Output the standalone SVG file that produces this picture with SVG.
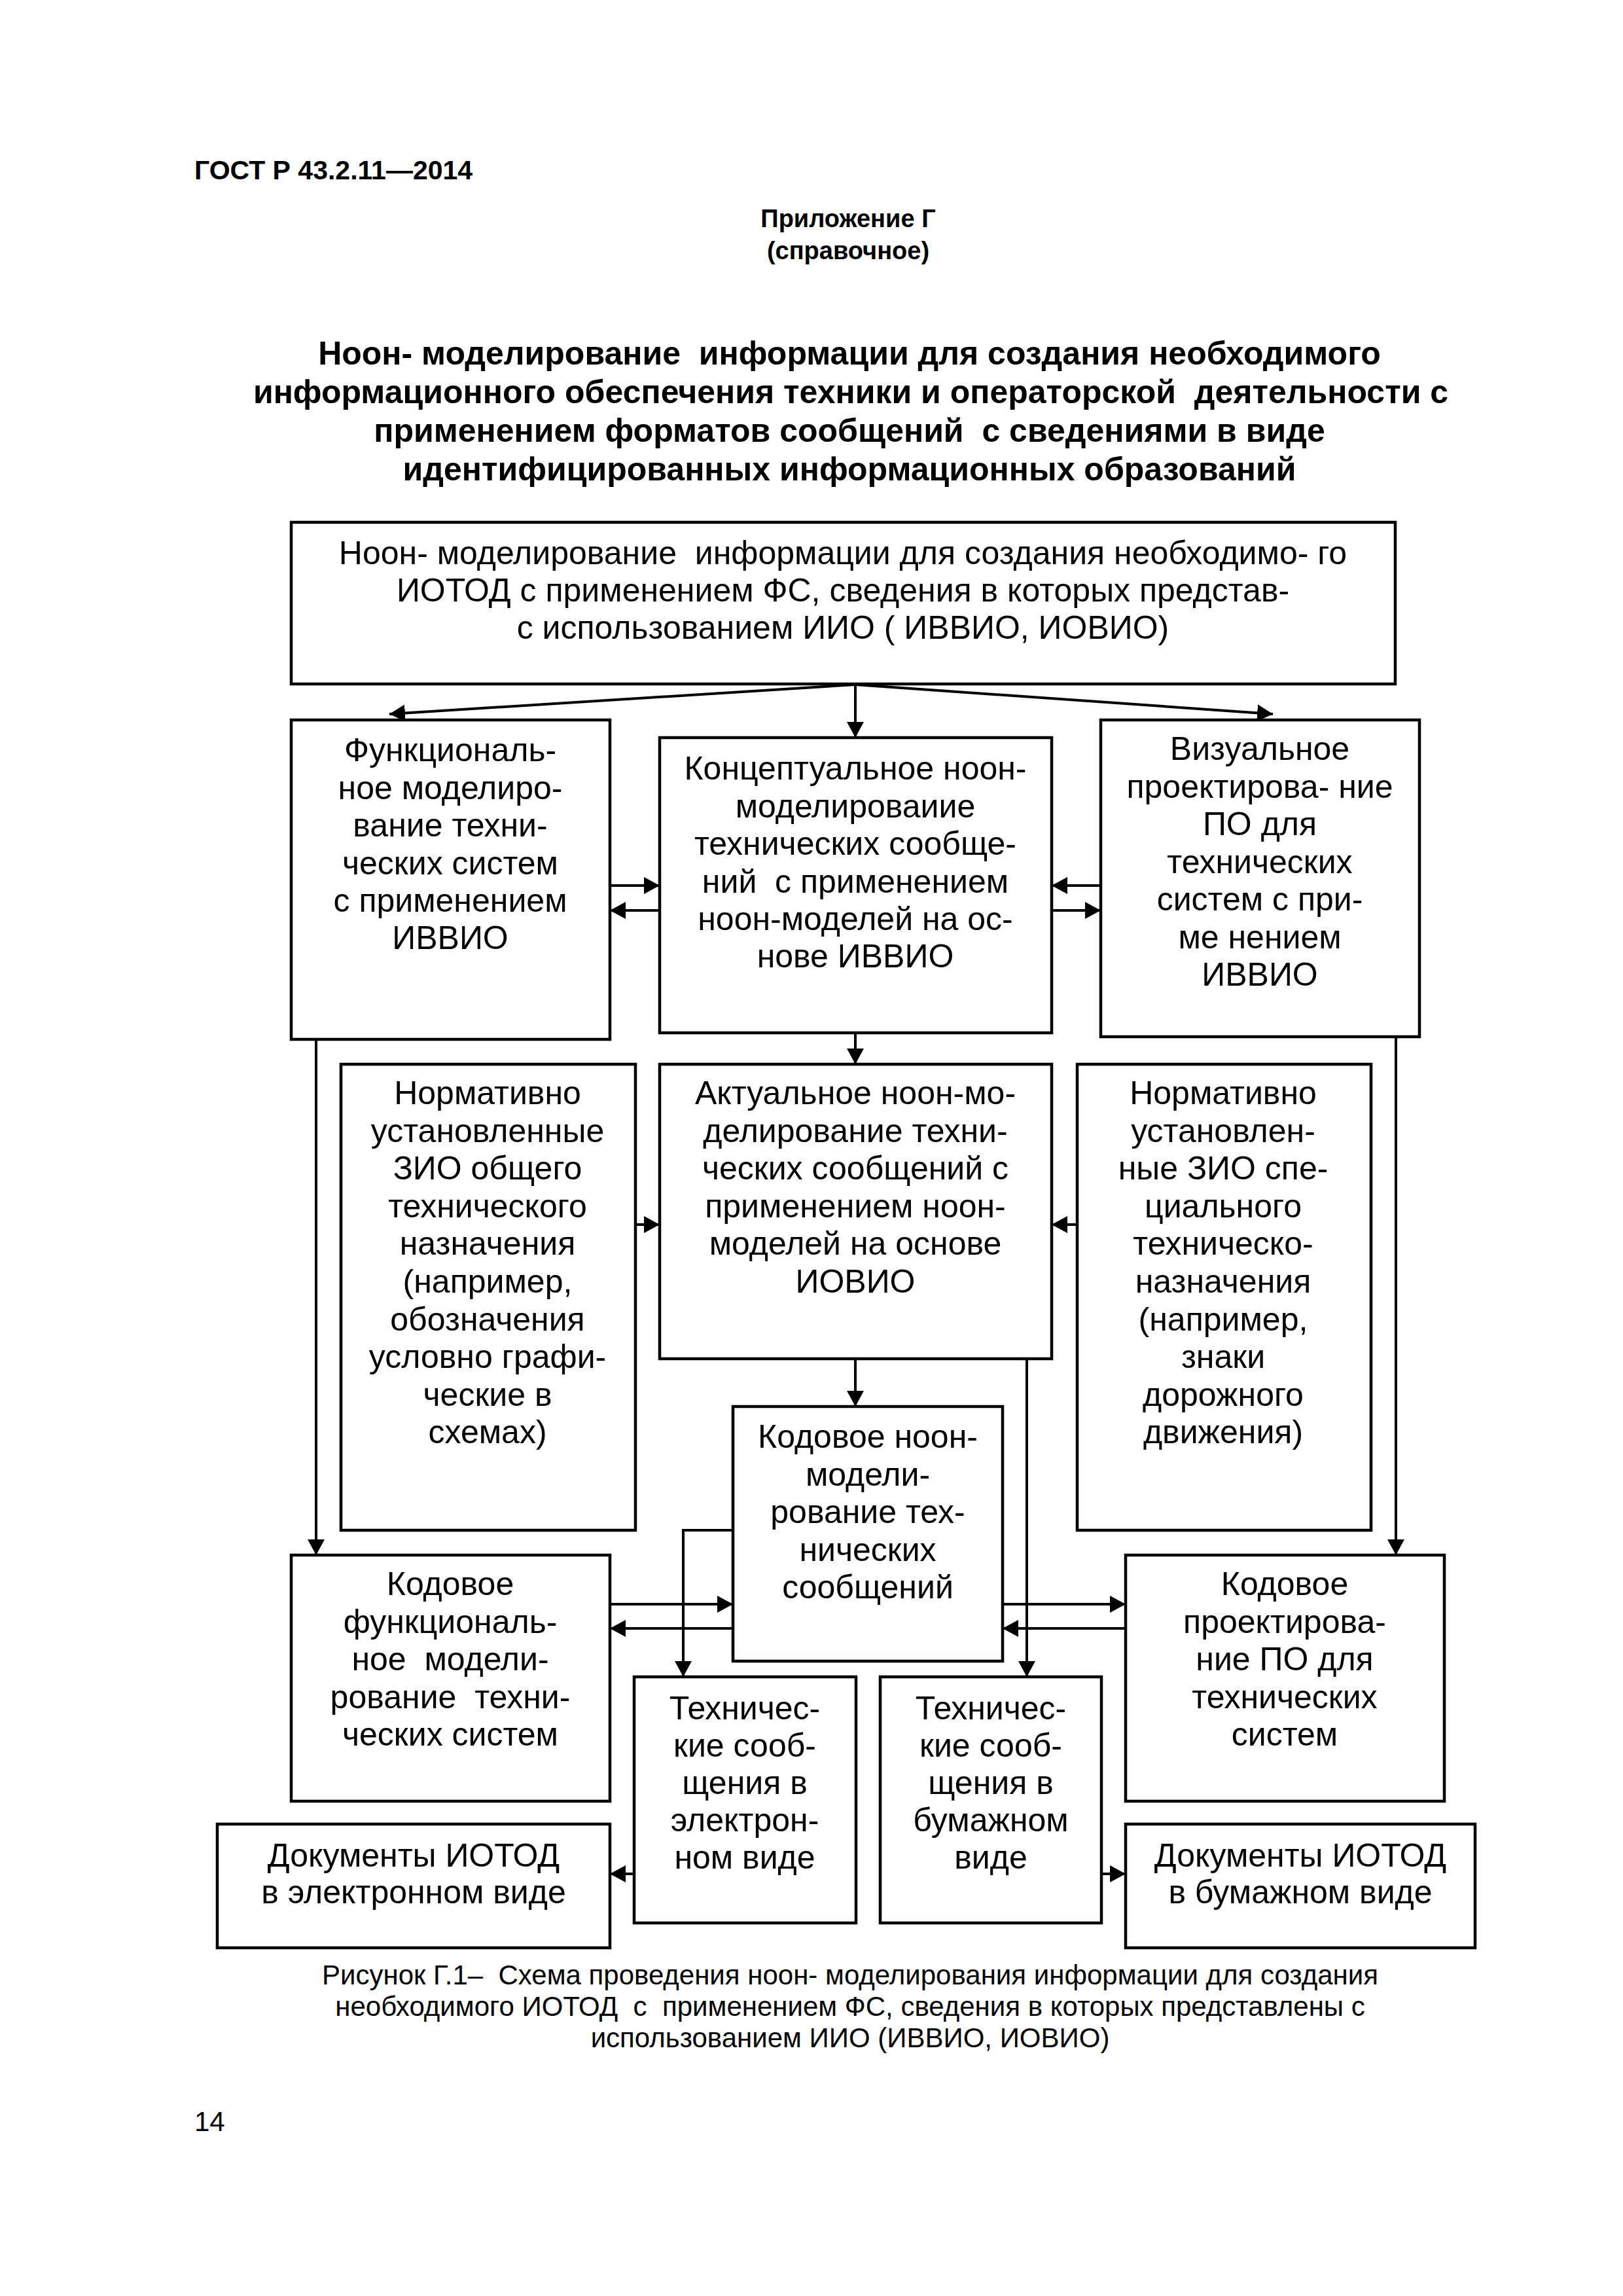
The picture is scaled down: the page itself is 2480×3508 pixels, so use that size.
<svg xmlns="http://www.w3.org/2000/svg" width="2480" height="3508" viewBox="0 0 2480 3508">
<style>
.t{font-family:"Liberation Sans",Arial,sans-serif;font-size:50px;fill:#000;text-anchor:middle;white-space:pre}
.b{font-weight:bold}
.box{fill:#fff;stroke:#000;stroke-width:4.5}
.c{fill:none;stroke:#000;stroke-width:4}
</style>
<defs>
<marker id="ah" markerUnits="userSpaceOnUse" markerWidth="26" markerHeight="28" refX="24" refY="13" orient="auto">
<path d="M0,0 L24,13 L0,26 z" fill="#000"/>
</marker>
</defs>
<rect width="2480" height="3508" fill="#fff"/>
<g id="header">
<text class="t b" x="297" y="274" style="font-size:41px;text-anchor:start">ГОСТ Р 43.2.11—2014</text>
<text class="t b" x="1296" y="347" style="font-size:38px">Приложение Г</text>
<text class="t b" x="1296" y="396" style="font-size:38px">(справочное)</text>
<text class="t b" x="1298" y="557">Ноон- моделирование  информации для создания необходимого</text>
<text class="t b" x="1300" y="616">информационного обеспечения техники и операторской  деятельности с</text>
<text class="t b" x="1298" y="675">применением форматов сообщений  с сведениями в виде</text>
<text class="t b" x="1298" y="734">идентифицированных информационных образований</text>
</g>
<g id="connectors">
<line class="c" x1="1307" y1="1046" x2="1307" y2="1127" marker-end="url(#ah)"/>
<line class="c" x1="1307" y1="1046" x2="595" y2="1091" marker-end="url(#ah)"/>
<line class="c" x1="1307" y1="1046" x2="1945" y2="1091" marker-end="url(#ah)"/>
<line class="c" x1="932" y1="1353" x2="1008" y2="1353" marker-end="url(#ah)"/>
<line class="c" x1="1008" y1="1391" x2="932" y2="1391" marker-end="url(#ah)"/>
<line class="c" x1="1682" y1="1353" x2="1607" y2="1353" marker-end="url(#ah)"/>
<line class="c" x1="1607" y1="1391" x2="1682" y2="1391" marker-end="url(#ah)"/>
<line class="c" x1="1307" y1="1578" x2="1307" y2="1626" marker-end="url(#ah)"/>
<line class="c" x1="971" y1="1871" x2="1008" y2="1871" marker-end="url(#ah)"/>
<line class="c" x1="1646" y1="1871" x2="1607" y2="1871" marker-end="url(#ah)"/>
<line class="c" x1="483" y1="1588" x2="483" y2="2376" marker-end="url(#ah)"/>
<line class="c" x1="2133" y1="1584" x2="2133" y2="2376" marker-end="url(#ah)"/>
<line class="c" x1="1307" y1="2076" x2="1307" y2="2149" marker-end="url(#ah)"/>
<line class="c" x1="1569" y1="2076" x2="1569" y2="2562" marker-end="url(#ah)"/>
<polyline class="c" points="1120,2338 1044,2338 1044,2562" marker-end="url(#ah)"/>
<line class="c" x1="932" y1="2451" x2="1120" y2="2451" marker-end="url(#ah)"/>
<line class="c" x1="1120" y1="2488" x2="932" y2="2488" marker-end="url(#ah)"/>
<line class="c" x1="1532" y1="2451" x2="1720" y2="2451" marker-end="url(#ah)"/>
<line class="c" x1="1720" y1="2488" x2="1532" y2="2488" marker-end="url(#ah)"/>
<line class="c" x1="969" y1="2863" x2="932" y2="2863" marker-end="url(#ah)"/>
<line class="c" x1="1683" y1="2863" x2="1720" y2="2863" marker-end="url(#ah)"/>
</g>
<g id="n-top">
<rect class="box" x="445" y="798" width="1687" height="247"/>
<text class="t"><tspan x="1288" y="862">Ноон- моделирование  информации для создания необходимо- го</tspan><tspan x="1288" y="919">ИОТОД с применением ФС, сведения в которых представ-</tspan><tspan x="1288" y="976">с использованием ИИО ( ИВВИО, ИОВИО)</tspan></text>
</g>
<g id="n-func">
<rect class="box" x="445" y="1100" width="487" height="488"/>
<text class="t"><tspan x="688" y="1163">Функциональ-</tspan><tspan x="688" y="1221">ное моделиро-</tspan><tspan x="688" y="1278">вание техни-</tspan><tspan x="688" y="1336">ческих систем</tspan><tspan x="688" y="1393">с применением</tspan><tspan x="688" y="1450">ИВВИО</tspan></text>
</g>
<g id="n-concept">
<rect class="box" x="1008" y="1127" width="599" height="451"/>
<text class="t"><tspan x="1307" y="1191">Концептуальное ноон-</tspan><tspan x="1307" y="1249">моделироваиие</tspan><tspan x="1307" y="1306">технических сообще-</tspan><tspan x="1307" y="1364">ний  с применением</tspan><tspan x="1307" y="1421">ноон-моделей на ос-</tspan><tspan x="1307" y="1478">нове ИВВИО</tspan></text>
</g>
<g id="n-visual">
<rect class="box" x="1682" y="1100" width="487" height="484"/>
<text class="t"><tspan x="1925" y="1161">Визуальное</tspan><tspan x="1925" y="1219">проектирова- ние</tspan><tspan x="1925" y="1276">ПО для</tspan><tspan x="1925" y="1334">технических</tspan><tspan x="1925" y="1391">систем с при-</tspan><tspan x="1925" y="1449">ме нением</tspan><tspan x="1925" y="1506">ИВВИО</tspan></text>
</g>
<g id="n-norm-general">
<rect class="box" x="521" y="1626" width="450" height="712"/>
<text class="t"><tspan x="745" y="1687">Нормативно</tspan><tspan x="745" y="1745">установленные</tspan><tspan x="745" y="1802">ЗИО общего</tspan><tspan x="745" y="1860">технического</tspan><tspan x="745" y="1917">назначения</tspan><tspan x="745" y="1975">(например,</tspan><tspan x="745" y="2033">обозначения</tspan><tspan x="745" y="2090">условно графи-</tspan><tspan x="745" y="2148">ческие в</tspan><tspan x="745" y="2205">схемах)</tspan></text>
</g>
<g id="n-actual">
<rect class="box" x="1008" y="1626" width="599" height="450"/>
<text class="t"><tspan x="1307" y="1687">Актуальное ноон-мо-</tspan><tspan x="1307" y="1745">делирование техни-</tspan><tspan x="1307" y="1802">ческих сообщений с</tspan><tspan x="1307" y="1860">применением ноон-</tspan><tspan x="1307" y="1917">моделей на основе</tspan><tspan x="1307" y="1975">ИОВИО</tspan></text>
</g>
<g id="n-norm-special">
<rect class="box" x="1646" y="1626" width="449" height="712"/>
<text class="t"><tspan x="1869" y="1687">Нормативно</tspan><tspan x="1869" y="1745">установлен-</tspan><tspan x="1869" y="1802">ные ЗИО спе-</tspan><tspan x="1869" y="1860">циального</tspan><tspan x="1869" y="1917">техническо-</tspan><tspan x="1869" y="1975">назначения</tspan><tspan x="1869" y="2033">(например,</tspan><tspan x="1869" y="2090">знаки</tspan><tspan x="1869" y="2148">дорожного</tspan><tspan x="1869" y="2205">движения)</tspan></text>
</g>
<g id="n-code-noon">
<rect class="box" x="1120" y="2149" width="412" height="389"/>
<text class="t"><tspan x="1326" y="2212">Кодовое ноон-</tspan><tspan x="1326" y="2270">модели-</tspan><tspan x="1326" y="2327">рование тех-</tspan><tspan x="1326" y="2385">нических</tspan><tspan x="1326" y="2442">сообщений</tspan></text>
</g>
<g id="n-code-func">
<rect class="box" x="445" y="2376" width="487" height="376"/>
<text class="t"><tspan x="688" y="2437">Кодовое</tspan><tspan x="688" y="2495">функциональ-</tspan><tspan x="688" y="2552">ное  модели-</tspan><tspan x="688" y="2610">рование  техни-</tspan><tspan x="688" y="2667">ческих систем</tspan></text>
</g>
<g id="n-code-design">
<rect class="box" x="1720" y="2376" width="487" height="376"/>
<text class="t"><tspan x="1963" y="2437">Кодовое</tspan><tspan x="1963" y="2495">проектирова-</tspan><tspan x="1963" y="2552">ние ПО для</tspan><tspan x="1963" y="2610">технических</tspan><tspan x="1963" y="2667">систем</tspan></text>
</g>
<g id="n-tech-el">
<rect class="box" x="969" y="2562" width="339" height="376"/>
<text class="t"><tspan x="1138" y="2627">Техничес-</tspan><tspan x="1138" y="2684">кие сооб-</tspan><tspan x="1138" y="2741">щения в</tspan><tspan x="1138" y="2798">электрон-</tspan><tspan x="1138" y="2855">ном виде</tspan></text>
</g>
<g id="n-tech-paper">
<rect class="box" x="1345" y="2562" width="338" height="376"/>
<text class="t"><tspan x="1514" y="2627">Техничес-</tspan><tspan x="1514" y="2684">кие сооб-</tspan><tspan x="1514" y="2741">щения в</tspan><tspan x="1514" y="2798">бумажном</tspan><tspan x="1514" y="2855">виде</tspan></text>
</g>
<g id="n-doc-el">
<rect class="box" x="332" y="2787" width="600" height="189"/>
<text class="t"><tspan x="632" y="2852">Документы ИОТОД</tspan><tspan x="632" y="2908">в электронном виде</tspan></text>
</g>
<g id="n-doc-paper">
<rect class="box" x="1720" y="2787" width="534" height="189"/>
<text class="t"><tspan x="1987" y="2852">Документы ИОТОД</tspan><tspan x="1987" y="2908">в бумажном виде</tspan></text>
</g>
<g id="caption">
<text class="t" style="font-size:42px"><tspan x="1299" y="3032">Рисунок Г.1–  Схема проведения ноон- моделирования информации для создания</tspan><tspan x="1299" y="3080">необходимого ИОТОД  с  применением ФС, сведения в которых представлены с</tspan><tspan x="1299" y="3128">использованием ИИО (ИВВИО, ИОВИО)</tspan></text>
<text class="t" x="297" y="3256" style="font-size:42px;text-anchor:start">14</text>
</g>
</svg>
